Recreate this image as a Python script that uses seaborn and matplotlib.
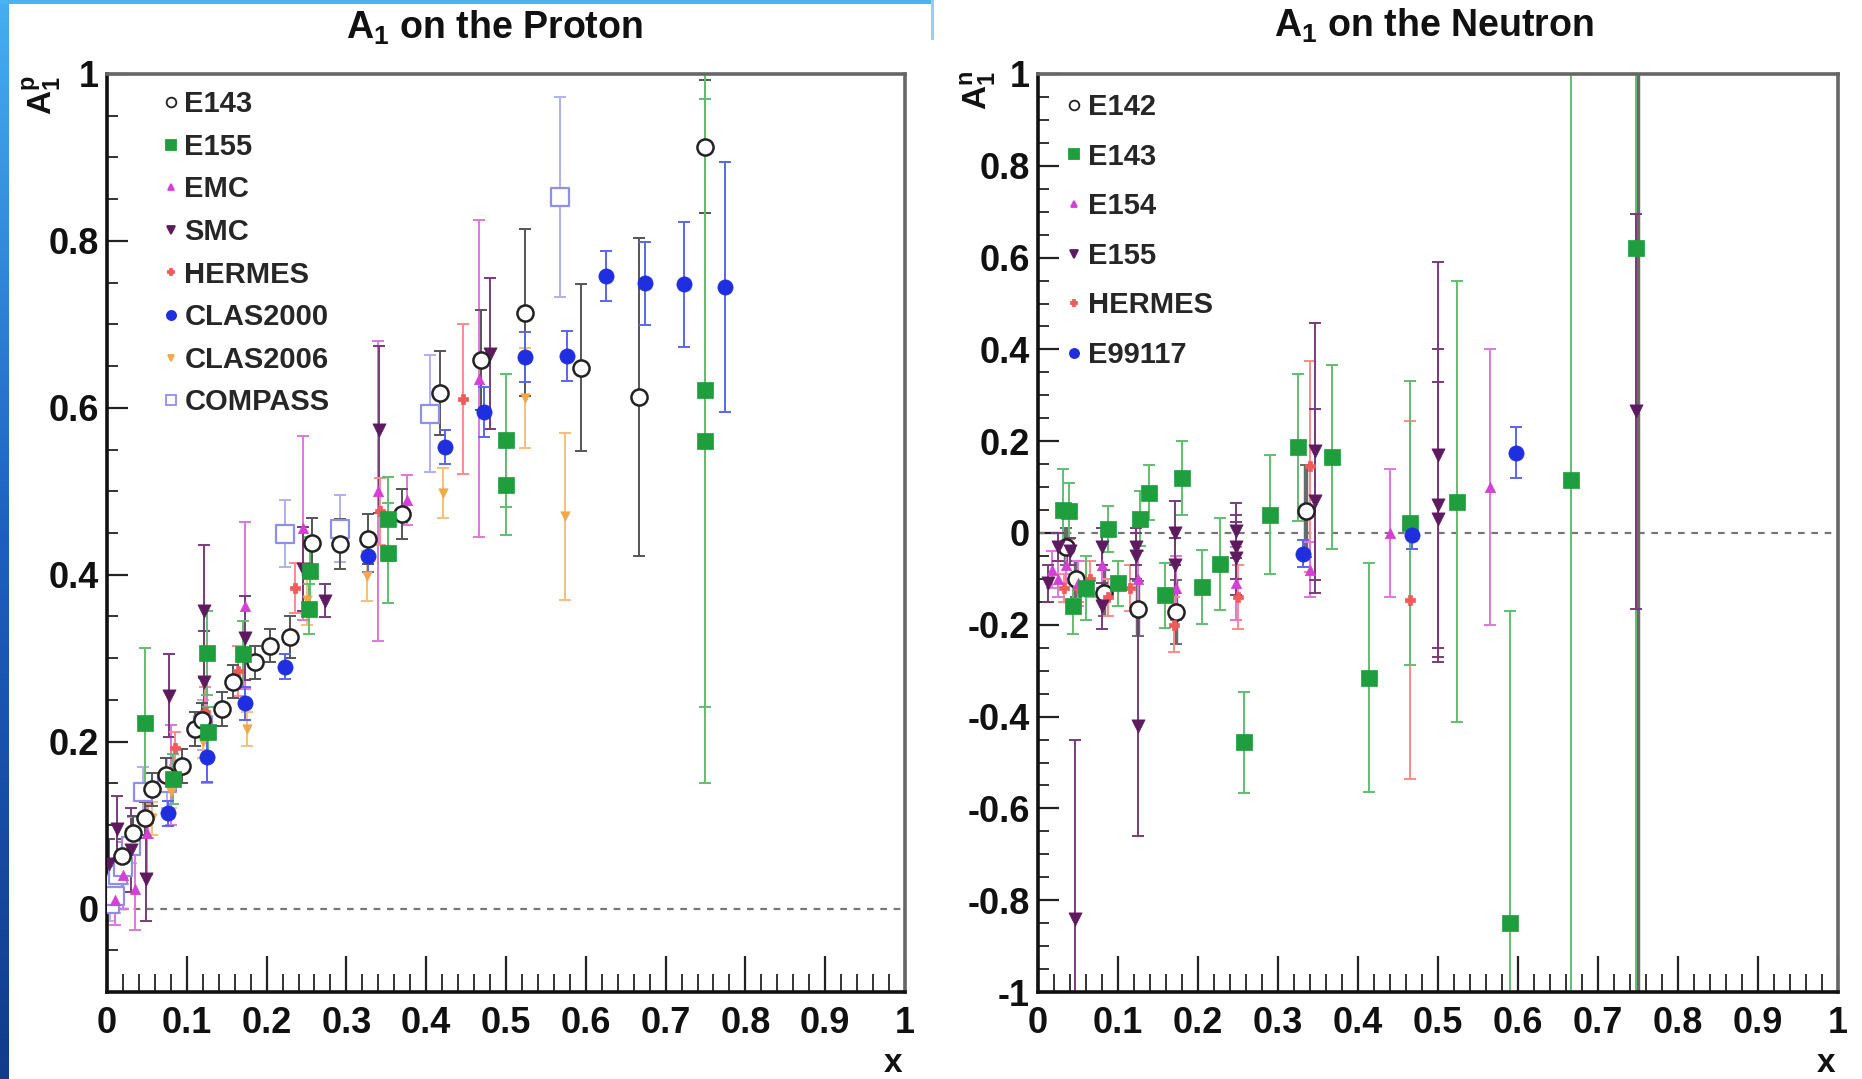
import numpy as np
import pandas as pd
import matplotlib
matplotlib.use("Agg")
import matplotlib.pyplot as plt
import seaborn as sns
from matplotlib.lines import Line2D
from matplotlib.patches import Rectangle
from matplotlib.ticker import MultipleLocator, FuncFormatter
from matplotlib.colors import LinearSegmentedColormap

# ---------------- Proton data ----------------
p_e143_x = [0.019, 0.033, 0.048, 0.057, 0.074, 0.094, 0.110, 0.119, 0.144, 0.158, 0.186, 0.204, 0.229, 0.257, 0.292, 0.327, 0.370, 0.417, 0.469, 0.524, 0.594, 0.667, 0.750]
p_e143_y = [0.063, 0.091, 0.108, 0.143, 0.160, 0.171, 0.215, 0.226, 0.239, 0.272, 0.295, 0.315, 0.325, 0.438, 0.437, 0.443, 0.473, 0.618, 0.657, 0.714, 0.648, 0.613, 0.913]
p_e143_e = [0.02, 0.02, 0.02, 0.02, 0.02, 0.02, 0.02, 0.02, 0.02, 0.02, 0.02, 0.02, 0.025, 0.03, 0.03, 0.03, 0.03, 0.05, 0.06, 0.10, 0.10, 0.19, 0.08]

p_e155_x = [0.048, 0.083, 0.125, 0.127, 0.170, 0.253, 0.254, 0.352, 0.352, 0.500, 0.500, 0.750, 0.750]
p_e155_y = [0.222, 0.155, 0.306, 0.212, 0.305, 0.359, 0.405, 0.426, 0.467, 0.508, 0.561, 0.560, 0.621]
p_e155_e = [0.09, 0.03, 0.05, 0.03, 0.04, 0.03, 0.04, 0.06, 0.05, 0.06, 0.08, 0.41, 0.38]

p_emc_x = [0.010, 0.020, 0.035, 0.050, 0.080, 0.125, 0.173, 0.246, 0.340, 0.376, 0.466]
p_emc_y = [0.010, 0.040, 0.024, 0.090, 0.160, 0.230, 0.363, 0.456, 0.500, 0.490, 0.635]
p_emc_e = [0.03, 0.04, 0.05, 0.05, 0.06, 0.08, 0.10, 0.11, 0.18, 0.03, 0.19]

p_smc_x = [0.003, 0.012, 0.030, 0.049, 0.078, 0.121, 0.121, 0.173, 0.245, 0.273, 0.341, 0.480]
p_smc_y = [0.053, 0.095, 0.070, 0.035, 0.255, 0.356, 0.272, 0.324, 0.407, 0.369, 0.574, 0.665]
p_smc_e = [0.03, 0.04, 0.05, 0.05, 0.05, 0.08, 0.06, 0.05, 0.05, 0.02, 0.10, 0.09]

p_hermes_x = [0.033, 0.052, 0.085, 0.123, 0.164, 0.235, 0.342, 0.446]
p_hermes_y = [0.090, 0.105, 0.192, 0.236, 0.285, 0.384, 0.476, 0.611]
p_hermes_e = [0.02, 0.02, 0.02, 0.03, 0.03, 0.03, 0.04, 0.09]

p_clas00_x = [0.076, 0.125, 0.173, 0.223, 0.327, 0.424, 0.472, 0.524, 0.577, 0.625, 0.674, 0.723, 0.775]
p_clas00_y = [0.114, 0.182, 0.246, 0.290, 0.423, 0.553, 0.595, 0.661, 0.662, 0.758, 0.749, 0.748, 0.745]
p_clas00_e = [0.015, 0.03, 0.02, 0.015, 0.02, 0.02, 0.03, 0.03, 0.03, 0.03, 0.05, 0.075, 0.15]

p_clas06_x = [0.057, 0.080, 0.120, 0.176, 0.250, 0.326, 0.421, 0.524, 0.574]
p_clas06_y = [0.108, 0.140, 0.200, 0.215, 0.370, 0.399, 0.498, 0.612, 0.470]
p_clas06_e = [0.02, 0.02, 0.02, 0.02, 0.03, 0.03, 0.03, 0.06, 0.10]

p_compass_x = [0.004, 0.006, 0.008, 0.010, 0.014, 0.020, 0.030, 0.045, 0.075, 0.120, 0.223, 0.292, 0.405, 0.568]
p_compass_y = [0.005, 0.020, 0.030, 0.015, 0.040, 0.050, 0.075, 0.140, 0.150, 0.220, 0.449, 0.455, 0.593, 0.853]
p_compass_e = [0.02, 0.02, 0.02, 0.02, 0.02, 0.02, 0.02, 0.03, 0.03, 0.03, 0.04, 0.04, 0.07, 0.12]

# ---------------- Neutron data ----------------
n_e142_x = [0.035, 0.047, 0.082, 0.125, 0.172, 0.335, 0.750]
n_e142_y = [-0.030, -0.100, -0.130, -0.165, -0.172, 0.048, 1.300]
n_e142_e = [0.04, 0.04, 0.05, 0.06, 0.07, 0.10, 2.80]

n_e143_x = [0.031, 0.039, 0.044, 0.060, 0.088, 0.100, 0.128, 0.139, 0.159, 0.180, 0.205, 0.227, 0.257, 0.290, 0.325, 0.367, 0.414, 0.465, 0.524, 0.590, 0.666, 0.748]
n_e143_y = [0.050, 0.048, -0.160, -0.120, 0.009, -0.110, 0.031, 0.088, -0.136, 0.120, -0.118, -0.068, -0.456, 0.040, 0.187, 0.166, -0.315, 0.022, 0.068, -0.850, 0.115, 0.620]
n_e143_e = [0.09, 0.06, 0.06, 0.07, 0.05, 0.05, 0.06, 0.06, 0.07, 0.08, 0.08, 0.10, 0.11, 0.13, 0.16, 0.20, 0.25, 0.31, 0.48, 0.68, 1.50, 1.70]

n_e154_x = [0.017, 0.025, 0.035, 0.050, 0.080, 0.125, 0.173, 0.248, 0.340, 0.440, 0.565]
n_e154_y = [-0.080, -0.100, -0.070, -0.110, -0.070, -0.100, -0.120, -0.110, -0.080, 0.000, 0.100]
n_e154_e = [0.04, 0.04, 0.04, 0.05, 0.05, 0.06, 0.07, 0.08, 0.06, 0.14, 0.30]

n_e155_x = [0.013, 0.025, 0.040, 0.046, 0.080, 0.080, 0.123, 0.123, 0.125, 0.171, 0.171, 0.248, 0.248, 0.248, 0.346, 0.346, 0.500, 0.500, 0.500, 0.748]
n_e155_y = [-0.110, -0.030, -0.040, -0.840, -0.030, -0.160, -0.030, -0.050, -0.420, 0.000, -0.070, 0.005, -0.030, -0.055, 0.178, 0.070, 0.170, 0.060, 0.030, 0.265]
n_e155_e = [0.04, 0.03, 0.03, 0.39, 0.04, 0.05, 0.04, 0.05, 0.24, 0.07, 0.06, 0.06, 0.07, 0.08, 0.28, 0.20, 0.42, 0.34, 0.30, 0.43]

n_hermes_x = [0.033, 0.050, 0.065, 0.088, 0.115, 0.170, 0.250, 0.340, 0.465]
n_hermes_y = [-0.120, -0.120, -0.100, -0.140, -0.120, -0.200, -0.140, 0.145, -0.145]
n_hermes_e = [0.03, 0.03, 0.04, 0.04, 0.05, 0.06, 0.07, 0.23, 0.39]

n_e99117_x = [0.331, 0.468, 0.598]
n_e99117_y = [-0.045, -0.004, 0.175]
n_e99117_e = [0.03, 0.03, 0.055]

proton_labels = ["E143", "E155", "EMC", "SMC", "HERMES", "CLAS2000", "CLAS2006", "COMPASS"]
neutron_labels = ["E142", "E143", "E154", "E155", "HERMES", "E99117"]

# ---------------- styles ----------------
GREEN = "#1e9e3c"
MAG = "#d43fd4"
PURP = "#5e1a5e"
RED = "#f05a5a"
BLUE = "#1f2fe0"
ORANGE = "#f0a848"
LAV = "#8f8fe8"

styles = {
    "E143o":   dict(marker="o", s=135, fc="white", ec="#222222", lw=1.8, ecol="#555555", elw=1.4),
    "E142o":   dict(marker="o", s=135, fc="white", ec="#222222", lw=1.8, ecol="#6a6a6a", elw=1.4),
    "E155g":   dict(marker="s", s=120, fc=GREEN, ec=GREEN, lw=0.5, ecol="#5fbf6f", elw=1.4),
    "EMC":     dict(marker="^", s=55, fc=MAG, ec=MAG, lw=0.5, ecol="#dd77dd", elw=1.4),
    "SMC":     dict(marker="v", s=90, fc=PURP, ec=PURP, lw=0.5, ecol="#7a3a7a", elw=1.4),
    "HERMES":  dict(marker="P", s=55, fc=RED, ec=RED, lw=0.5, ecol="#ff8a8a", elw=1.4),
    "CLAS2000": dict(marker="o", s=120, fc=BLUE, ec=BLUE, lw=0.5, ecol="#5a66ee", elw=1.4),
    "CLAS2006": dict(marker="v", s=45, fc=ORANGE, ec=ORANGE, lw=0.5, ecol="#f6c07a", elw=1.4),
    "COMPASS": dict(marker="s", s=150, fc="white", ec=LAV, lw=1.6, ecol="#b0b0f0", elw=1.4),
}

sns.set_theme(style="white")
plt.rcParams['font.family'] = ['Liberation Sans', 'DejaVu Sans']
plt.rcParams['font.weight'] = 'bold'
plt.rcParams['axes.unicode_minus'] = False
plt.rcParams['mathtext.fontset'] = 'custom'
plt.rcParams['mathtext.rm'] = 'Liberation Sans:bold'
plt.rcParams['mathtext.bf'] = 'Liberation Sans:bold'
plt.rcParams['mathtext.it'] = 'Liberation Sans:bold'
plt.rcParams['mathtext.default'] = 'bf'

W, H = 1862, 1079
fig = plt.figure(figsize=(W / 100, H / 100), dpi=100)
fig.patch.set_facecolor("white")

axL = fig.add_axes([107 / W, 1 - 992 / H, 798 / W, 918 / H])
axR = fig.add_axes([1038 / W, 1 - 992 / H, 800 / W, 918 / H])


def draw(ax, x, y, e, st, elw=None):
    ax.errorbar(x, y, yerr=e, fmt="none", ecolor=st["ecol"],
                elinewidth=elw if elw else st["elw"],
                capsize=4, capthick=1.4, zorder=2)
    df = pd.DataFrame({"x": x, "y": y})
    sns.scatterplot(data=df, x="x", y="y", ax=ax, marker=st["marker"], s=st["s"],
                    color=st["fc"], edgecolor=st["ec"], linewidth=st["lw"],
                    zorder=3, legend=False)


def handle(st):
    return Line2D([], [], ls="none", marker=st["marker"], markersize=np.sqrt(st["s"]) * 0.6,
                  markerfacecolor=st["fc"], markeredgecolor=st["ec"], markeredgewidth=1.3)


# ---- proton ----
p_series = [
    (p_compass_x, p_compass_y, p_compass_e, styles["COMPASS"]),
    (p_clas06_x, p_clas06_y, p_clas06_e, styles["CLAS2006"]),
    (p_emc_x, p_emc_y, p_emc_e, styles["EMC"]),
    (p_smc_x, p_smc_y, p_smc_e, styles["SMC"]),
    (p_hermes_x, p_hermes_y, p_hermes_e, styles["HERMES"]),
    (p_e143_x, p_e143_y, p_e143_e, styles["E143o"]),
    (p_e155_x, p_e155_y, p_e155_e, styles["E155g"]),
    (p_clas00_x, p_clas00_y, p_clas00_e, styles["CLAS2000"]),
]
for x, y, e, st in p_series:
    draw(axL, x, y, e, st)

# ---- neutron ----
n_series = [
    (n_e142_x, n_e142_y, n_e142_e, styles["E142o"], 3.2),
    (n_hermes_x, n_hermes_y, n_hermes_e, styles["HERMES"], None),
    (n_e154_x, n_e154_y, n_e154_e, styles["EMC"], None),
    (n_e143_x, n_e143_y, n_e143_e, styles["E155g"], None),
    (n_e155_x, n_e155_y, n_e155_e, styles["SMC"], None),
    (n_e99117_x, n_e99117_y, n_e99117_e, styles["CLAS2000"], None),
]
for x, y, e, st, lw in n_series:
    draw(axR, x, y, e, st, lw)

fmt = FuncFormatter(lambda v, p: "%g" % round(v, 3))
for ax, ylo in ((axL, -0.1), (axR, -1.0)):
    ax.set_xlim(0, 1)
    ax.set_ylim(ylo, 1.0)
    ax.axhline(0, color="#777777", ls=(0, (3, 3)), lw=1.6, zorder=1)
    ax.set_xlabel("")
    ax.set_ylabel("")
    ax.xaxis.set_major_locator(MultipleLocator(0.1))
    ax.xaxis.set_minor_locator(MultipleLocator(0.02))
    ax.yaxis.set_major_locator(MultipleLocator(0.2))
    ax.yaxis.set_minor_locator(MultipleLocator(0.05))
    ax.xaxis.set_major_formatter(fmt)
    ax.yaxis.set_major_formatter(fmt)
    ax.tick_params(axis="x", which="major", direction="in", length=26, width=1.6,
                   labelsize=26, pad=10, colors="#222222", bottom=True, top=False)
    ax.tick_params(axis="x", which="minor", direction="in", length=13, width=1.4,
                   colors="#333333", bottom=True, top=False)
    ax.tick_params(axis="y", which="major", direction="in", length=15, width=1.6,
                   labelsize=26, pad=6, colors="#222222", left=True, right=False)
    ax.tick_params(axis="y", which="minor", direction="in", length=8, width=1.4,
                   colors="#333333", left=True, right=False)
    for lab in ax.get_xticklabels() + ax.get_yticklabels():
        lab.set_fontweight("bold")
        lab.set_color("#111111")
    for side in ("left", "bottom"):
        ax.spines[side].set_color("#111111")
        ax.spines[side].set_linewidth(2.6)
    for side in ("top", "right"):
        ax.spines[side].set_color("#666666")
        ax.spines[side].set_linewidth(2.6)
    ax.set_facecolor("white")

p_handles = [handle(styles[k]) for k in ["E143o", "E155g", "EMC", "SMC", "HERMES", "CLAS2000", "CLAS2006", "COMPASS"]]
axL.legend(p_handles, proton_labels, loc="upper left", bbox_to_anchor=(0.055, 0.995),
           frameon=False, handlelength=0.6, handletextpad=0.15,
           labelspacing=0.50, borderaxespad=0.0, prop={"weight": "bold", "size": 21})
n_handles = [handle(styles[k]) for k in ["E143o", "E155g", "EMC", "SMC", "HERMES", "CLAS2000"]]
axR.legend(n_handles, neutron_labels, loc="upper left", bbox_to_anchor=(0.02, 0.992),
           frameon=False, handlelength=0.6, handletextpad=0.15,
           labelspacing=0.74, borderaxespad=0.0, prop={"weight": "bold", "size": 21})

# titles and axis labels
fig.text(494 / W, 1 - 28 / H, r"A$_1$ on the Proton", ha="center", va="center",
         fontsize=27, fontweight="bold", color="#111111")
fig.text(1434 / W, 1 - 26 / H, r"A$_1$ on the Neutron", ha="center", va="center",
         fontsize=27, fontweight="bold", color="#111111")
fig.text(42 / W, 1 - 95 / H, r"A$_1^p$", rotation=90, ha="center", va="center",
         fontsize=24, fontweight="bold", color="#111111")
fig.text(978 / W, 1 - 90 / H, r"A$_1^n$", rotation=90, ha="center", va="center",
         fontsize=24, fontweight="bold", color="#111111")
fig.text(893 / W, 1 - 1064 / H, "x", ha="center", va="center",
         fontsize=24, fontweight="bold", color="#111111")
fig.text(1826 / W, 1 - 1064 / H, "x", ha="center", va="center",
         fontsize=24, fontweight="bold", color="#111111")

# slide decoration: blue left edge with gradient, thin top line
edge = fig.add_axes([0, 0, 9 / W, 1])
grad = np.linspace(0, 1, 256).reshape(-1, 1)
cm = LinearSegmentedColormap.from_list("edge", ["#46aef2", "#1d5fc0", "#123b8c"])
edge.imshow(grad, aspect="auto", cmap=cm, extent=[0, 1, 1, 0])
edge.set_axis_off()
fig.add_artist(Rectangle((0, 1 - 4 / H), 933 / W, 4 / H, transform=fig.transFigure,
                         facecolor="#4ab3f2", edgecolor="none"))
fig.add_artist(Rectangle((931 / W, 1 - 40 / H), 3 / W, 40 / H, transform=fig.transFigure,
                         facecolor="#8fd0f8", edgecolor="none"))

fig.savefig("out.png", dpi=100)
